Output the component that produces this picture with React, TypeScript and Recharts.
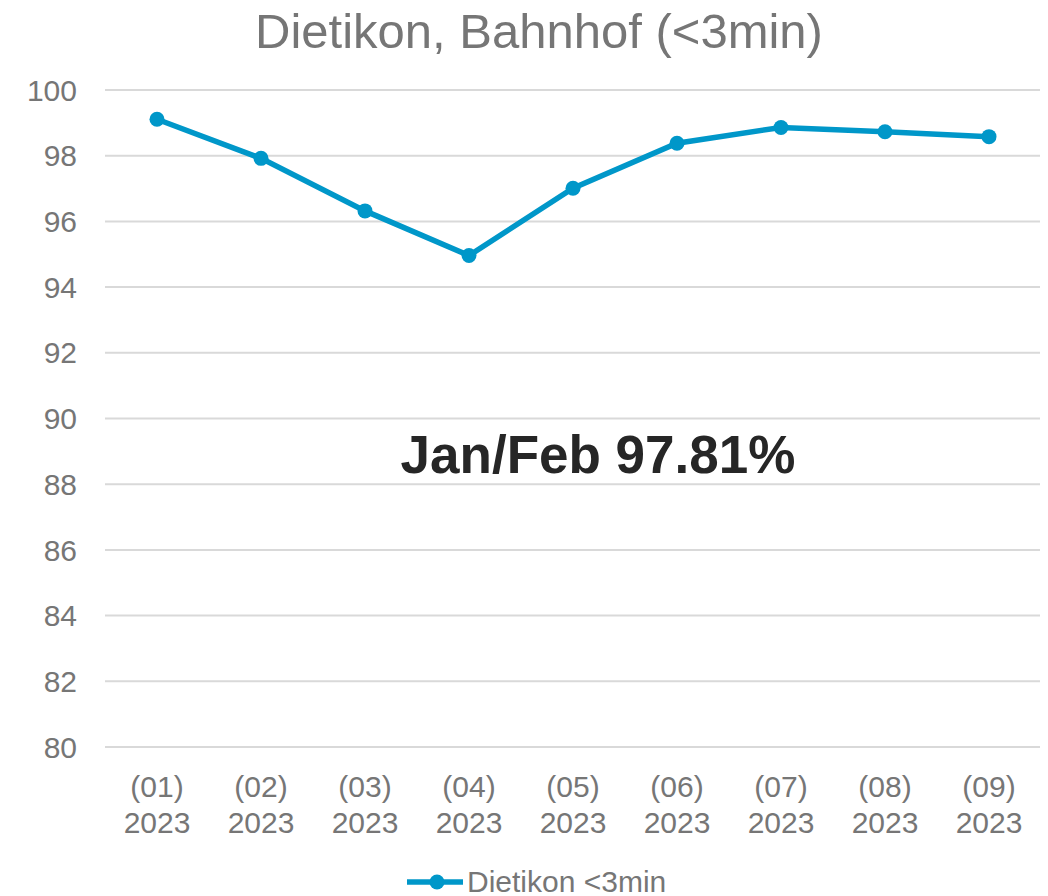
import React from "react";
import { LineChart, Line, XAxis, YAxis, CartesianGrid } from "recharts";

const chartTitle = "Dietikon, Bahnhof (<3min)";
const seriesName = "Dietikon <3min";
const annotation = "Jan/Feb 97.81%";
const months = ["(01)", "(02)", "(03)", "(04)", "(05)", "(06)", "(07)", "(08)", "(09)"];
const years = ["2023", "2023", "2023", "2023", "2023", "2023", "2023", "2023", "2023"];
const values = [99.11, 97.92, 96.32, 94.96, 97.01, 98.38, 98.86, 98.73, 98.58];
const yTicks = [80, 82, 84, 86, 88, 90, 92, 94, 96, 98, 100];

const data = months.map((m, i) => ({ cat: `${m} ${years[i]}`, value: values[i] }));

const LINE_COLOR = "#0097C9";
const TEXT_GRAY = "#767676";
const FONT = "'Liberation Sans', Arial, sans-serif";

const W = 1040;
const H = 888;

const XTick = (props: any) => {
  const { x, y, payload } = props;
  const [m, yr] = String(payload.value).split(" ");
  return (
    <g>
      <text x={x} y={y + 50} textAnchor="middle" fill={TEXT_GRAY} fontSize={30} fontFamily={FONT}>
        {m}
      </text>
      <text x={x} y={y + 86} textAnchor="middle" fill={TEXT_GRAY} fontSize={30} fontFamily={FONT}>
        {yr}
      </text>
    </g>
  );
};

export default function App() {
  return (
    <div style={{ position: "relative", width: W, height: H, background: "#fff" }}>
      <LineChart width={W} height={H} data={data} margin={{ top: 82, right: 7, left: 0, bottom: 89 }}>
        <CartesianGrid vertical={false} stroke="#d9d9d9" strokeWidth={2} />
        <XAxis
          dataKey="cat"
          axisLine={false}
          tickLine={false}
          tickSize={0}
          tickMargin={0}
          height={60}
          interval={0}
          padding={{ left: 52, right: 52 }}
          tick={<XTick />}
        />
        <YAxis
          domain={[80, 100]}
          ticks={yTicks}
          axisLine={false}
          tickLine={false}
          tickSize={0}
          tickMargin={28}
          width={97}
          interval={0}
          tick={{ fill: TEXT_GRAY, fontSize: 30, fontFamily: FONT }}
        />
        <Line
          type="linear"
          dataKey="value"
          name={seriesName}
          stroke={LINE_COLOR}
          strokeWidth={5.5}
          dot={{ r: 7.5, fill: LINE_COLOR, stroke: LINE_COLOR, strokeWidth: 0 }}
          activeDot={false}
          isAnimationActive={false}
        />
      </LineChart>
      <svg
        width={W}
        height={H}
        style={{ position: "absolute", left: 0, top: 0, pointerEvents: "none", overflow: "visible" }}
      >
        <text x={531} y={40} textAnchor="middle" fill={TEXT_GRAY} fontSize={49} fontFamily={FONT}>
          {chartTitle}
        </text>
        <text x={590} y={465} textAnchor="middle" fill="#262626" fontSize={53} fontWeight="bold" fontFamily={FONT}>
          {annotation}
        </text>
        <line x1={399} y1={874} x2={455} y2={874} stroke={LINE_COLOR} strokeWidth={5.5} />
        <circle cx={429} cy={874} r={7.5} fill={LINE_COLOR} />
        <text x={459} y={884} fill={TEXT_GRAY} fontSize={30} fontFamily={FONT}>
          {seriesName}
        </text>
      </svg>
    </div>
  );
}
